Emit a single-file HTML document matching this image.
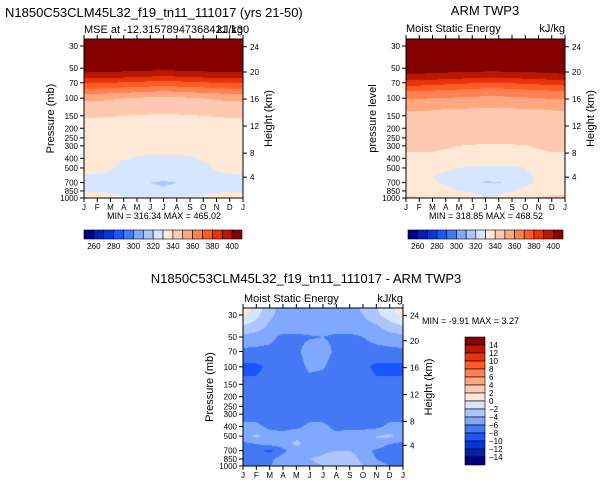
<!DOCTYPE html>
<html><head><meta charset="utf-8">
<style>
body{margin:0;background:#fff;width:601px;height:485px;position:relative;overflow:hidden;font-family:"Liberation Sans",sans-serif}
canvas{position:absolute}
svg{position:absolute;left:0;top:0}
</style></head>
<body>
<canvas id="c1" style="left:84px;top:39px" width="159" height="159"></canvas>
<canvas id="c2" style="left:406px;top:39px" width="159" height="159"></canvas>
<canvas id="c3" style="left:243px;top:308px" width="160" height="158"></canvas>
<svg id="s" width="601" height="485">
<text x="5" y="17" font-size="13">N1850C53CLM45L32_f19_tn11_111017 (yrs 21-50)</text>
<text x="84" y="33" font-size="11">MSE at -12.31578947368421,130</text>
<text x="243" y="33" font-size="11" text-anchor="end">kJ/kg</text>
<text x="485" y="15" font-size="13" text-anchor="middle">ARM TWP3</text>
<text x="406" y="32" font-size="11">Moist Static Energy</text>
<text x="565" y="32" font-size="11" text-anchor="end">kJ/kg</text>
<text x="306" y="283" font-size="13" text-anchor="middle">N1850C53CLM45L32_f19_tn11_111017 - ARM TWP3</text>
<text x="244" y="302" font-size="11">Moist Static Energy</text>
<text x="403" y="302" font-size="11" text-anchor="end">kJ/kg</text>
<text x="164" y="219" font-size="9" text-anchor="middle">MIN = 316.34 MAX = 465.02</text>
<text x="486" y="219" font-size="9" text-anchor="middle">MIN = 318.85 MAX = 468.52</text>
<text x="422" y="324" font-size="9">MIN = -9.91 MAX = 3.27</text>
</svg>
<script>
const months=["J","F","M","A","M","J","J","A","S","O","N","D","J"];
const pTicks=[30,50,70,100,150,200,250,300,400,500,700,850,1000];
const hTicks=[24,20,16,12,8,4];
const hTickP=[30.5,54.6,102,190,355,618];
const colors=["#00007f","#0020b0","#0038d8","#1a55ff","#4478f4","#80a8ff","#adc6ff","#d6e6ff","#ffe8d6","#ffc8b0","#ffa880","#ff8050","#ff5c28","#e83408","#b81800","#850000"];
const absLevels=[260,270,280,290,300,310,320,330,340,350,360,370,380,390,400];
const absLabels=[260,280,300,320,340,360,380,400];
const diffLevels=[-14,-12,-10,-8,-6,-4,-2,0,2,4,6,8,10,12,14];
const diffLabels=[14,12,10,8,6,4,2,0,-2,-4,-6,-8,-10,-12,-14];

const modelP=[25,50,60,70,85,100,150,250,400,500,600,700,850,1000];
const modelV=[
[420,420,420,420,420,420,420,420,420,420,420,420,420],
[405,405,405,405,405,404,403,404,405,405,405,405,405],
[395,395,394,393,392,391,390,391,392,393,394,395,395],
[381,381,380,379,378,377,376,377,378,379,380,381,381],
[365,365,364,363,362,361,360,361,362,363,364,365,365],
[352,352,351,350,349,348,348,348,349,350,351,352,352],
[340.5,340.5,340.3,340,339.6,339.3,339.2,339.3,339.6,340,340.3,340.5,340.5],
[335,335,335,335,335,335,335,335,335,335,335,335,335],
[332,332,331,330.5,329.5,329,329,329,329.5,331,332,332,332],
[333,333,331,328,327,327,327,327,327,328,331,333,333],
[329,329,328,326,325,324,324,324,325,327,328,329,329],
[328,328,327,325,323,320,319,320,322,325,327,328,328],
[329,329,328,326,325,322,321,322,324,326,328,329,329],
[341,338,334,331,330,330,329,330,331,332,335,338,341]];

const armP=[25,50,60,70,85,100,130,250,300,400,500,600,700,850,1000];
const armV=[
[420,420,420,420,420,420,420,420,420,420,420,420,420],
[405,405,405,405,405,405,405,405,405,405,405,405,405],
[398,398,397,396,395,394,393,393,394,395,396,397,398],
[385,385,384,383,382,381,380,380,381,382,383,384,385],
[370,370,369,368,367,366,365,365,366,367,368,369,370],
[360.5,360.5,360,359.5,359,358.5,358,358,358.5,359,360,360.5,360.5],
[350.5,350.5,350.2,349.8,349.4,349,348.8,348.8,349,349.4,349.8,350.2,350.5],
[343,343,343,343,343,343,343,343,343,343,343,343,343],
[341,341,341,340.5,340,339.5,339,339,339.3,339.8,340.5,341,341],
[339,339,339,338.5,338,337.5,337,337,337.3,337.8,338.5,339,339],
[333,333,333,332,330,328,328,328,328,330,332,333,333],
[332,331,330,328,326,326,325,326,327,329,331,332,332],
[333,332,331,329,326,325,319,319,325,328,331,332,333],
[336,335,334,332,330,329,328,328,330,332,335,337,337],
[342,341,340,338,336,333,330,331,334,338,341,342,342]];

const diffP=[25,30,40,50,70,100,150,300,400,500,600,700,850,1000];
const diffV=[
[1.5,-1,-3,-5,-5,-5,-5,-5,-5,-3.5,-2,-0.5,1.5],
[0.5,-1.5,-3.5,-5,-5,-5,-5,-5,-5,-4,-2.5,-1,0.5],
[-2.5,-3,-4.5,-5,-5,-5,-5,-5,-5,-5,-4.5,-3,-2.5],
[-4.5,-5,-5.5,-6.5,-6.5,-6.2,-6,-6.5,-6.5,-6,-5.5,-5,-4.5],
[-6.5,-6.5,-6.5,-6.5,-6.5,-5,-5,-6.5,-6.5,-6.5,-6.5,-6.5,-6.5],
[-8.5,-8.5,-7.5,-7,-7,-5.5,-5.8,-7,-7,-7.5,-8.5,-8.5,-8.5],
[-7.5,-7.5,-7,-7,-7,-7,-7,-7,-7,-7,-7.5,-7.5,-7.5],
[-7,-7,-7,-7,-7,-7,-7,-7,-7,-7,-7,-7,-7],
[-5.5,-5.5,-6.5,-6.5,-6.5,-5.5,-5.5,-6.5,-6.5,-6.5,-6.5,-5.5,-5.5],
[-5,-3.5,-5,-5.5,-4.5,-4,-5.5,-5.5,-5,-5,-4,-3.5,-5],
[-6.5,-6,-5.5,-5,-3.5,-5,-5.5,-5,-4.5,-5,-4,-6,-6.5],
[-7.5,-7.5,-8.5,-6.5,-5,-5,-4.5,-4,-4,-5,-6.5,-8,-7.5],
[-6.5,-6.5,-6.5,-5,-4.5,-4,-3.5,-2.5,-3,-4.5,-6,-7,-6.5],
[-6.5,-6,-6,-5.5,-5,-4.5,-4,-3,-3,-4,-5,-6,-6.5]];

const PTOP=25.5, PBOT=1000;
function yOfP(p,top,h){return top+Math.log(p/PTOP)/Math.log(PBOT/PTOP)*h;}
function pOfY(fy){return PTOP*Math.exp(fy*Math.log(PBOT/PTOP));}
function sample(P,V,m,p){
  let i=0;while(i<P.length-2&&p>P[i+1])i++;
  let t=(Math.log(p)-Math.log(P[i]))/(Math.log(P[i+1])-Math.log(P[i]));t=Math.max(0,Math.min(1,t));
  let j=Math.min(11,Math.floor(m));let u=m-j;
  const a=V[i][j]*(1-u)+V[i][j+1]*u, b=V[i+1][j]*(1-u)+V[i+1][j+1]*u;
  return a*(1-t)+b*t;
}
function colorFor(v,lev){let k=0;while(k<lev.length&&v>=lev[k])k++;return colors[k];}
function drawField(id,P,V,lev){
  const c=document.getElementById(id),ctx=c.getContext('2d');
  for(let x=0;x<c.width;x++)for(let y=0;y<c.height;y++){
    const m=(x+0.5)/c.width*12, p=pOfY((y+0.5)/c.height);
    ctx.fillStyle=colorFor(sample(P,V,m,p),lev);ctx.fillRect(x,y,1,1);
  }
}
drawField('c1',modelP,modelV,absLevels);
drawField('c2',armP,armV,absLevels);
drawField('c3',diffP,diffV,diffLevels);

const svg=document.getElementById('s');const NS="http://www.w3.org/2000/svg";
function mk(tag,attrs){const e=document.createElementNS(NS,tag);for(const k in attrs)e.setAttribute(k,attrs[k]);svg.appendChild(e);return e;}
function axes(L,T,W,H,ylab,prefix){
  const r=mk('rect',{x:L,y:T,width:W,height:H,fill:'none',stroke:'#000','stroke-width':1});
  
  
  months.forEach((mo,i)=>{const x=L+i*W/12;
    mk('line',{x1:x,x2:x,y1:T+H,y2:T+H+4,stroke:'#000'});
    mk('line',{x1:x,x2:x,y1:T,y2:T-4,stroke:'#000'});
    const t=mk('text',{x:x,y:T+H+12,'font-size':8,'text-anchor':'middle'});t.textContent=mo;
    
    
  });
  pTicks.forEach(p=>{const y=yOfP(p,T,H);
    mk('line',{x1:L,x2:L-4,y1:y,y2:y,stroke:'#000'});
    const t=mk('text',{x:L-6,y:y+3,'font-size':8,'text-anchor':'end'});t.textContent=p;
    
    
  });
  hTicks.forEach((h,i)=>{const y=yOfP(hTickP[i],T,H);
    mk('line',{x1:L+W,x2:L+W+4,y1:y,y2:y,stroke:'#000'});
    const t=mk('text',{x:L+W+7,y:y+3,'font-size':8});t.textContent=h;
    
    
  });
  const yl=mk('text',{x:0,y:0,'font-size':11,'text-anchor':'middle',transform:`translate(${L-30},${T+H/2}) rotate(-90)`});yl.textContent=ylab;
  
  
  const hl=mk('text',{x:0,y:0,'font-size':11,'text-anchor':'middle',transform:`translate(${L+W+29},${T+H/2}) rotate(-90)`});hl.textContent='Height (km)';
  
  
}
axes(84,39,159,159,'Pressure (mb)','left');
axes(406,39,159,159,'pressure level','right');
axes(243,308,160,158,'Pressure (mb)','diff');

function hbar(L,T,W,H,prefix){
  const bw=W/16;
  colors.forEach((c,i)=>{const r=mk('rect',{x:L+i*bw,y:T,width:bw,height:H,fill:c,stroke:'#000','stroke-width':0.6});
    
    });
  absLabels.forEach(v=>{const k=absLevels.indexOf(v)+1;
    const t=mk('text',{x:L+k*bw,y:T+H+10,'font-size':8,'text-anchor':'middle'});t.textContent=v;
    
    });
}
hbar(84,230,158,9,'left');
hbar(408,230,155,9,'right');
const bh=8;
colors.slice().reverse().forEach((c,i)=>{const r=mk('rect',{x:465,y:337+i*bh,width:20,height:bh,fill:c,stroke:'#000','stroke-width':0.6});
  
  });
diffLabels.forEach((v,i)=>{const t=mk('text',{x:489,y:337+(i+1)*bh+3,'font-size':8});t.textContent=(v<0?'\u2212'+(-v):v);
  
  });
</script>
</body></html>
